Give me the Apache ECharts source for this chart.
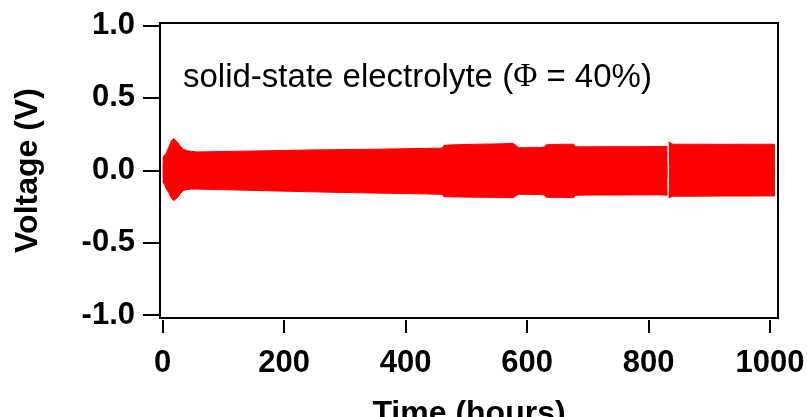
<!DOCTYPE html>
<html>
<head>
    <meta charset="utf-8">
    <title>Voltage vs time</title>
    <script src="https://cdn.jsdelivr.net/npm/echarts@6/dist/echarts.min.js"></script>
    <style>
        html, body { margin: 0; padding: 0; background: #fff; }
    </style>
</head>
<body>
<div id="main" style="width: 807px;height:417px;"></div>

<script type="text/javascript">
    // envelope of the cycling voltage (hours, volts)
    var hours = [0, 3, 6, 10, 14, 18, 21, 25, 29, 34, 40, 48, 56, 80, 120, 160, 200, 240, 280, 320, 360, 400, 440, 460,
        463, 480, 520, 560, 577, 582, 586, 600, 620, 628, 632, 660, 676, 680, 700, 740, 780, 820, 831,
        832, 833, 834, 840, 880, 920, 960, 1000, 1008];
    var upper = [0.09, 0.10, 0.12, 0.16, 0.20, 0.22, 0.225, 0.19, 0.165, 0.145, 0.135, 0.13, 0.127, 0.128, 0.131, 0.134,
        0.137, 0.140, 0.142, 0.144, 0.146, 0.149, 0.152, 0.153,
        0.172, 0.176, 0.180, 0.183, 0.186, 0.170, 0.156, 0.156, 0.157, 0.160, 0.176, 0.180, 0.180, 0.162, 0.162, 0.163,
        0.163, 0.164, 0.165,
        null, 0.195, 0.185, 0.180, 0.180, 0.179, 0.180, 0.180, 0.179];
    var lower = [-0.08, -0.10, -0.13, -0.155, -0.19, -0.21, -0.215, -0.185, -0.16, -0.14, -0.132, -0.13, -0.13, -0.132,
        -0.136, -0.140, -0.144, -0.148, -0.152, -0.155, -0.158, -0.161, -0.164, -0.166,
        -0.182, -0.184, -0.186, -0.188, -0.190, -0.175, -0.166, -0.166, -0.168, -0.170, -0.186, -0.188, -0.190, -0.172,
        -0.171, -0.171, -0.170, -0.170, -0.172,
        null, -0.190, -0.182, -0.179, -0.179, -0.178, -0.178, -0.177, -0.177];
    var xTicks = [0, 200, 400, 600, 800, 1000];
    var yTicks = [-1.0, -0.5, 0.0, 0.5, 1.0];

    function pairs(vals) {
        var out = [];
        for (var i = 0; i < hours.length; i++) {
            out.push([hours[i], vals[i]]);
        }
        return out;
    }

    var font = 'Liberation Sans, Arial, sans-serif';
    var myChart = echarts.init(document.getElementById('main'));

    var option = {
        animation: false,
        grid: {
            left: 160, right: 29, top: 23, bottom: 99,
            outerBoundsMode: 'none',
            containLabel: false,
            show: true, borderColor: '#000', borderWidth: 2, backgroundColor: 'transparent'
        },
        xAxis: {
            type: 'value',
            min: -4.5,
            max: 1013,
            offset: 2,
            splitLine: { show: false },
            axisLine: { show: false, onZero: false },
            axisTick: { show: true, length: 13, lineStyle: { color: '#000', width: 2 }, customValues: xTicks },
            axisLabel: {
                customValues: xTicks, margin: 28, color: '#000',
                fontSize: 31, fontWeight: 'bold', fontFamily: font,
                formatter: function (v) { return String(v); }
            },
            name: 'Time (hours)',
            nameLocation: 'middle',
            nameGap: 78,
            nameTextStyle: { color: '#000', fontSize: 32, fontWeight: 'bold', fontFamily: font }
        },
        yAxis: {
            type: 'value',
            min: -1.02,
            max: 1.017,
            splitLine: { show: false },
            axisLine: { show: false, onZero: false },
            axisTick: { show: true, length: 17, lineStyle: { color: '#000', width: 2 }, customValues: yTicks },
            axisLabel: {
                customValues: yTicks, margin: 25, color: '#000',
                fontSize: 31, fontWeight: 'bold', fontFamily: font,
                formatter: function (v) { return v.toFixed(1); }
            },
            name: 'Voltage (V)',
            nameLocation: 'middle',
            nameGap: 116,
            nameRotate: 90,
            nameTextStyle: { color: '#000', fontSize: 32, fontWeight: 'bold', fontFamily: font }
        },
        series: [{
            name: 'upper',
            type: 'line',
            data: pairs(upper),
            showSymbol: false,
            connectNulls: false,
            lineStyle: { color: '#ff0000', width: 1 },
            itemStyle: { color: '#ff0000' },
            areaStyle: { color: '#ff0000', opacity: 1, origin: -0.05 }
        }, {
            name: 'lower',
            type: 'line',
            data: pairs(lower),
            showSymbol: false,
            connectNulls: false,
            lineStyle: { color: '#ff0000', width: 1 },
            itemStyle: { color: '#ff0000' },
            areaStyle: { color: '#ff0000', opacity: 1, origin: 0.05 }
        }],
        graphic: [{
            type: 'text',
            left: 183,
            top: 61,
            style: {
                text: 'solid-state electrolyte ({phi|Φ} = 40%)',
                fill: '#000',
                font: '33px ' + font,
                rich: {
                    phi: { fontFamily: 'Liberation Serif, serif', fontSize: 33, fill: '#000' }
                }
            }
        }]
    };

    myChart.setOption(option);
</script>
</body>
</html>
